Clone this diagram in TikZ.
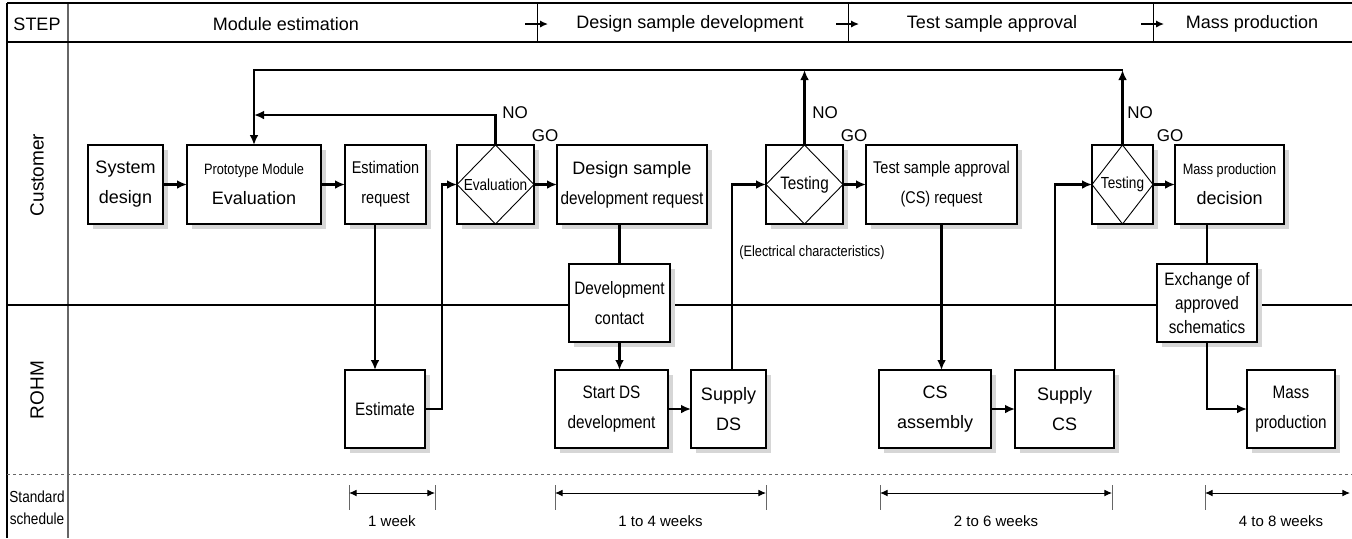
\documentclass[tikz,border=0pt]{standalone}
\usepackage{fontspec}
\setmainfont{Liberation Sans}
\newfontfamily\nf[FakeStretch=0.85]{Liberation Sans}
\usetikzlibrary{shapes,arrows.meta,shadows}
\tikzstyle{block} = [rectangle, draw, fill=white, line width=0.7pt, outer sep=0pt,
    inner sep=1pt, align=center, minimum height=39.5pt, font=\fontsize{9}{15}\selectfont,
    drop shadow={shadow xshift=2.5pt, shadow yshift=-2.5pt, fill=black!16, opacity=1}]
\tikzstyle{narrow} = [font=\nf\fontsize{9}{15}\selectfont]
\tikzstyle{decision} = [block, minimum width=38.5pt]
\tikzstyle{line} = [draw, line width=1.2pt, -{Latex[length=5pt,width=4.4pt]}]
\tikzstyle{wire} = [draw, line width=1.2pt]
\tikzstyle{period} = [draw, line width=0.5pt, {Latex[length=3.8pt,width=3.4pt]}-{Latex[length=3.8pt,width=3.4pt]}]
\tikzstyle{endbar} = [draw, black!60, line width=0.5pt]
\tikzstyle{tag} = [font=\fontsize{8.5}{10}\selectfont, inner sep=0pt]
\tikzstyle{hdr} = [font=\fontsize{9}{10}\selectfont, inner sep=0pt]
\begin{document}
\begin{tikzpicture}[x=0.5pt, y=-0.5pt]
    \useasboundingbox (0,0) rectangle (1352,538);
    % Frame and lanes
    \draw [black!60, line width=0.6pt] (68,3) -- (68,538);
    \draw [line width=1pt] (7,3) -- (1352,3);
    \draw [line width=0.7pt] (7,42) -- (1352,42);
    \draw [line width=1.1pt] (7,3) -- (7,538);
    \foreach \d in {537,848,1153} {
        \draw [line width=0.5pt] (\d,3) -- (\d,42);
        \draw [line width=0.7pt, -{Latex[length=4pt,width=3.6pt]}] (\d-12,24) -- (\d+11,24);
    }
    \draw [line width=1.2pt] (7,305) -- (1352,305);
    \draw [black!60, line width=0.5pt, dash pattern=on 1.5pt off 1.5pt] (7,474) -- (1352,474);
    % Headings
    \node [hdr] (step) at (37,24) {STEP};
    \node [hdr] (h1) at (286,24) {Module estimation};
    \node [hdr] (h2) at (690,24) {Design sample development};
    \node [hdr] (h3) at (992,24) {Test sample approval};
    \node [hdr] (h4) at (1252,24) {Mass production};
    \node [hdr, rotate=90, font=\fontsize{9.5}{10}\selectfont] (cust) at (37,175) {Customer};
    \node [hdr, rotate=90, font=\fontsize{9.5}{10}\selectfont] (rohm) at (37,390) {ROHM};
    \node [align=center, inner sep=0pt, font=\nf\fontsize{8}{11}\selectfont] (std) at (37,508) {Standard\\schedule};
    % Place nodes
    \node [block, minimum width=37.5pt] (sys) at (125.5,184.5) {System\\design};
    \node [block, minimum width=67pt] (proto) at (254,184.5) {{\nf\fontsize{7.5}{15}\selectfont Prototype Module}\\Evaluation};
    \node [block, narrow, minimum width=40.5pt, font=\nf\fontsize{8.5}{15}\selectfont] (estreq) at (385.5,184.5) {Estimation\\request};
    \node [decision, font=\nf\fontsize{8}{10}\selectfont] (eval) at (495.5,184.5) {Evaluation};
    \node [block, minimum width=75pt] (dsreq) at (632,184.5) {Design sample\\{\nf development request}};
    \node [decision, narrow] (test1) at (804.5,184.5) {Testing};
    \node [block, minimum width=75.5pt, font=\nf\fontsize{8.5}{15}\selectfont] (csreq) at (941.5,184.5) {Test sample approval\\(CS) request};
    \node [decision, minimum width=30.5pt, font=\nf\fontsize{8}{10}\selectfont] (test2) at (1122.5,184.5) {Testing};
    \node [block, minimum width=54.5pt] (mpdec) at (1229.5,184.5) {{\nf\fontsize{7.5}{15}\selectfont Mass production}\\decision};
    \node [block, narrow, minimum width=50.5pt, minimum height=39pt] (devc) at (619.5,303) {Development\\contact};
    \node [block, minimum width=50pt, minimum height=39pt, font=\nf\fontsize{9}{12}\selectfont] (exch) at (1207,303) {Exchange of\\approved\\schematics};
    \node [block, narrow, minimum width=40pt, minimum height=39pt] (est) at (385,409) {Estimate};
    \node [block, narrow, minimum width=56.5pt, minimum height=39pt] (startds) at (611.5,409) {Start DS\\development};
    \node [block, minimum width=37.5pt, minimum height=39pt] (supds) at (728.5,409) {Supply\\DS};
    \node [block, minimum width=56pt, minimum height=39pt] (csasm) at (935,409) {CS\\assembly};
    \node [block, minimum width=49.5pt, minimum height=39pt] (supcs) at (1064.5,409) {Supply\\CS};
    \node [block, narrow, minimum width=44pt, minimum height=39pt] (mp) at (1291,409) {Mass\\production};
    \foreach \n in {eval,test1,test2}
        \draw [line width=0.45pt] (\n.north) -- (\n.east) -- (\n.south) -- (\n.west) -- cycle;
    \node [tag] (no1) at (515,113) {NO};
    \node [tag] (go1) at (545,136) {GO};
    \node [tag] (no2) at (825,113) {NO};
    \node [tag] (go2) at (854,136) {GO};
    \node [tag] (no3) at (1140,113) {NO};
    \node [tag] (go3) at (1170,136) {GO};
    \node [tag, font=\nf\fontsize{7.5}{10}\selectfont] (elec) at (812,253) {(Electrical characteristics)};
    \coordinate (topL) at (254,70);
    \coordinate (midL) at (254,115);
    % Draw edges
    \path [line] (sys) -- (proto);
    \path [line] (proto) -- (estreq);
    \path [line] (eval) -- (dsreq);
    \path [line] (test1) -- (csreq);
    \path [line] (test2) -- (mpdec);
    \path [line] (eval.north) |- (midL);
    \path [line] (test1.north) -- (test1.north |- topL);
    \path [line] (test2.north) -- (test2.north |- topL);
    \path [line] (test2.north |- topL) -- (topL) -- (proto.north);
    \path [line] ([xshift=-5.25pt]estreq.south) -- ([xshift=-5.25pt]estreq.south |- est.north);
    \path [line] (est.east) -- ++(17,0) |- (eval.west);
    \path [wire] (devc.north |- dsreq.south) -- (devc.north);
    \path [line] (devc.south) -- (devc.south |- startds.north);
    \path [line] (startds) -- (supds);
    \path [line] ([xshift=1.75pt]supds.north) |- (test1.west);
    \path [line] (csreq.south) -- (csreq.south |- csasm.north);
    \path [line] (csasm) -- (supcs);
    \path [line] ([xshift=-4.75pt]supcs.north) |- (test2.west);
    \path [wire] (exch.north |- mpdec.south) -- (exch.north);
    \path [line] (exch.south) |- (mp.west);
    % Schedule
    \foreach \a/\b/\t in {349/435/1 week, 555/766/1 to 4 weeks, 880/1112/2 to 6 weeks} {
        \path [endbar] (\a,485) -- (\a,510);
        \path [endbar] (\b,485) -- (\b,510);
        \path [period] (\a,493) -- (\b,493);
        \node [tag, font=\fontsize{7.5}{10}\selectfont] (wk\a) at ({(\a+\b)/2},521) {\t};
    }
    \path [endbar] (1205,485) -- (1205,510);
    \path [period] (1205,493) -- (1350,493);
    \node [tag, font=\fontsize{7.5}{10}\selectfont] (wk1205) at (1281,521) {4 to 8 weeks};
\end{tikzpicture}
\end{document}
